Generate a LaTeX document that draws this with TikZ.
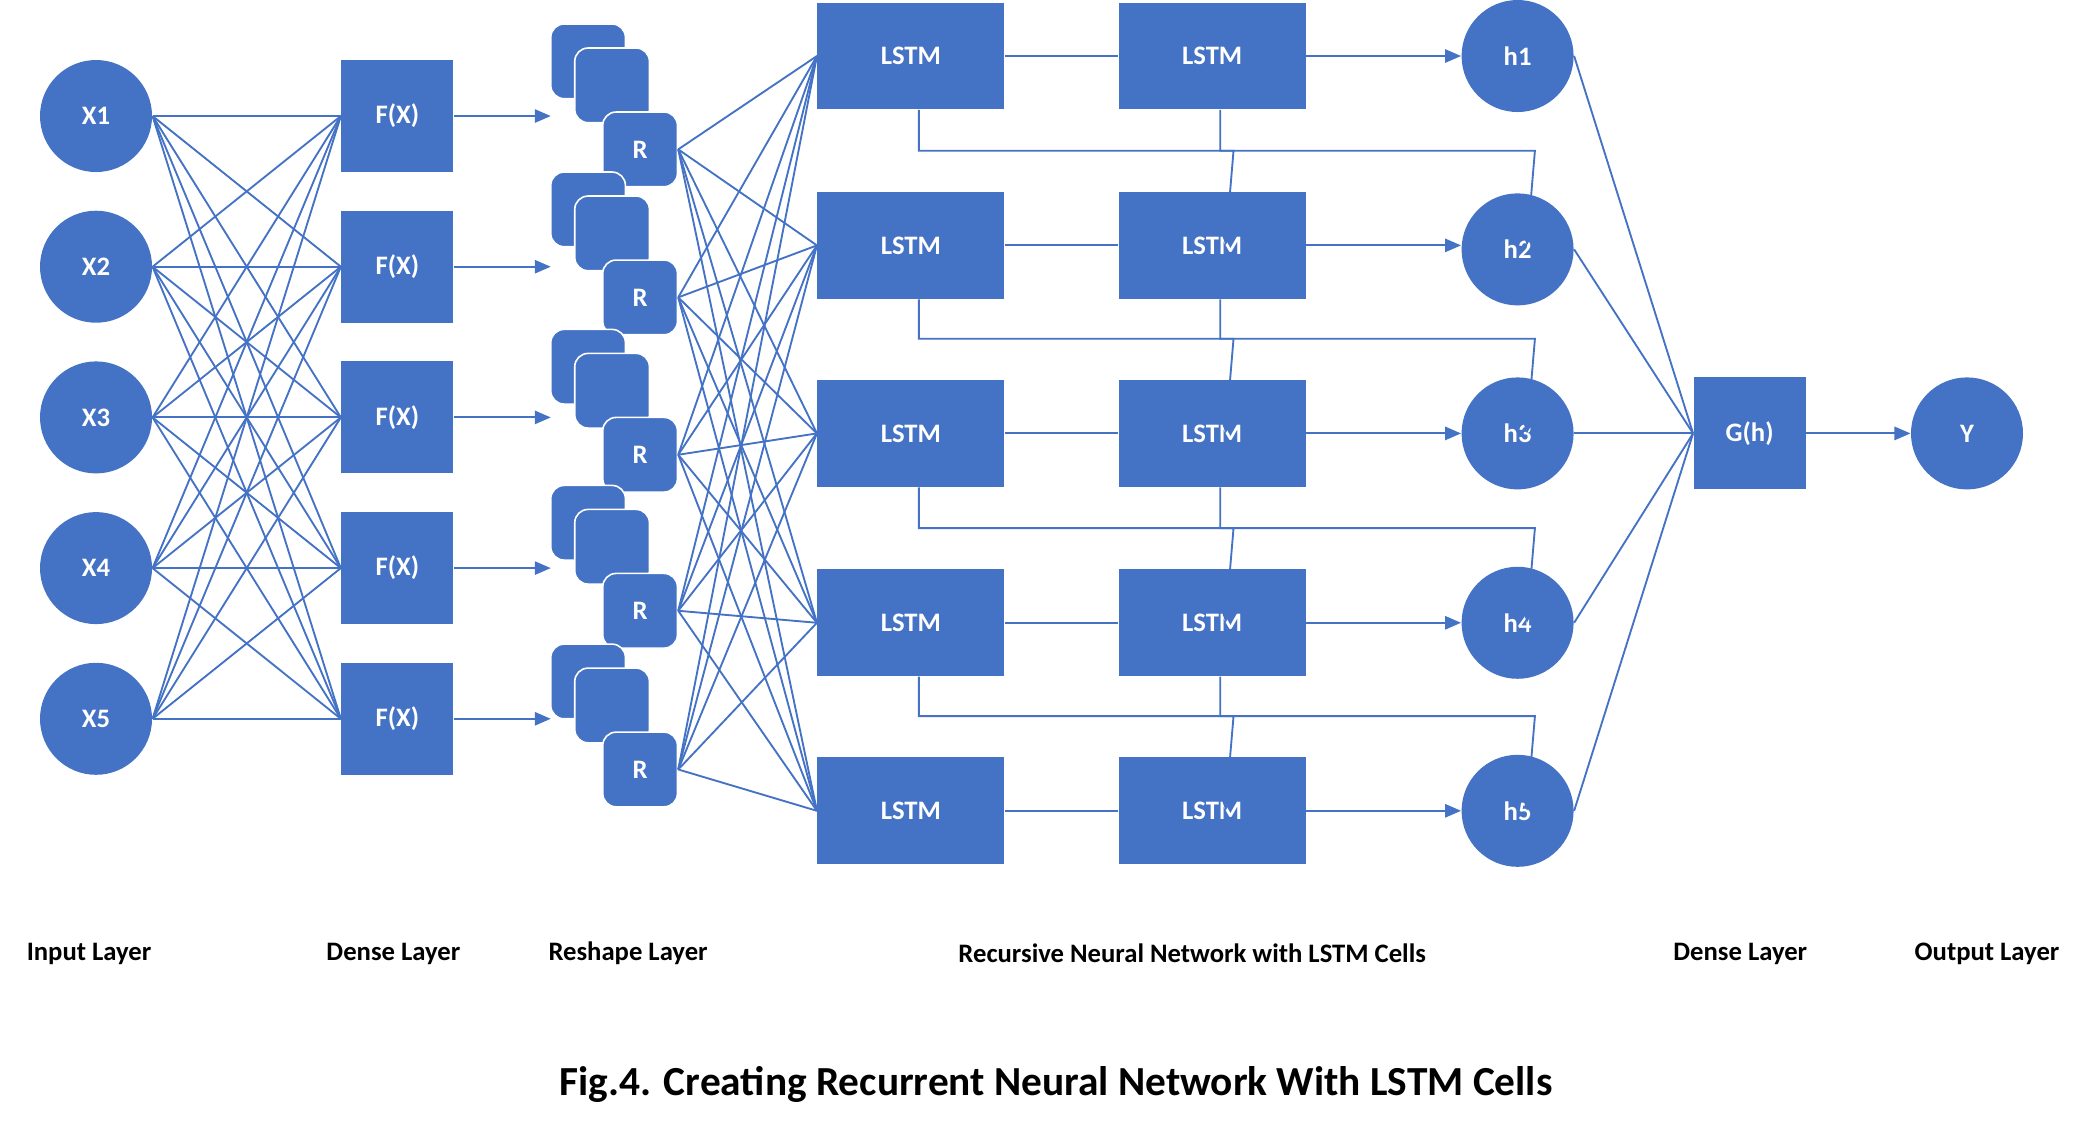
\documentclass[tikz,border=0pt]{standalone}
\usepackage{fontspec}
\setmainfont{Carlito}
\usetikzlibrary{arrows.meta}
\definecolor{bl}{HTML}{4472C4}
\begin{document}
\begin{tikzpicture}[x=0.5pt,y=-0.5pt,
  circ/.style={circle,fill=bl,draw=none,minimum size=42pt,inner sep=0,text=white,font=\bfseries\fontsize{10}{12}\selectfont},
  sq/.style={rectangle,fill=bl,draw=none,minimum width=42pt,minimum height=42pt,inner sep=0,text=white,font=\bfseries\fontsize{10}{12}\selectfont},
  lstm/.style={rectangle,fill=bl,draw=none,minimum width=70pt,minimum height=40pt,inner sep=0,text=white,font=\bfseries\fontsize{10}{12}\selectfont},
  rr/.style={rectangle,rounded corners=5pt,fill=bl,draw=white,line width=0.6pt,minimum width=28pt,minimum height=28pt,inner sep=0,text=white,font=\bfseries\fontsize{10}{12}\selectfont},
  ln/.style={draw=bl,line width=0.7pt},
  ar/.style={ln,-{Triangle[length=6pt,width=5pt]}},
  lab/.style={font=\bfseries\fontsize{10}{12}\selectfont,text=black}]
\useasboundingbox (0,0) rectangle (1568,853);
% rows
\foreach \i/\y/\ry in {1/87/112,2/200/223,3/313/341,4/426/458,5/539/577}{
  \node[circ] (x\i) at (72,\y) {X\i};
  \node[sq] (f\i) at (298,\y) {F(X)};
  \node[rr] (rb\i) at (441,\ry-66+\y-\y) {};
  \node[rr] (rm\i) at (459,\ry-48) {};
  \node[rr] (r\i) at (480,\ry-28+28) {R};
  \coordinate (ra\i) at (413,\y);
}
\foreach \i/\ry in {1/112,2/223,3/341,4/458,5/577}{
  \path (r\i) ++(0,0);
}
\foreach \i/\y in {1/42,2/184,3/325,4/467,5/608}{
  \node[lstm] (a\i) at (683,\y) {LSTM};
  \node[lstm] (b\i) at (909,\y) {LSTM};
}
\foreach \i/\y in {1/42,2/187,3/325,4/467,5/608}{
  \node[circ] (h\i) at (1138,\y) {h\i};
}
\node[sq] (g) at (1312,325) {G(h)};
\node[circ] (yy) at (1475,325) {Y};
% connections
\foreach \i in {1,...,5}{
  \foreach \j in {1,...,5}{
    \draw[ln] (x\i.east) -- (f\j.west);
    \draw[ln] (r\i.east) -- (a\j.west);
  }
  \draw[ar] (f\i.east) -- (ra\i);
  \draw[ln] (a\i.east) -- (b\i.west);
  \draw[ar] (b\i.east) -- (b\i.east -| h\i.west);
  \draw[ln] (h\i.east) -- (g.west);
}
\draw[ar] (g.east) -- (yy.west);
% vertical recurrences
\foreach \i/\j/\m in {1/2/113,2/3/254,3/4/396,4/5/537}{
  \coordinate (ea\i) at ([xshift=3pt]a\i.south);
  \coordinate (eb\i) at ([xshift=3pt]b\i.south);
  \coordinate (ta\j) at ([xshift=118]a\i.south |- a\j);
  \coordinate (tb\j) at ([xshift=118]b\i.south |- b\j);
  \draw[ar] (ea\i) |- ([xshift=118]ea\i |- 0,\m) -- (ta\j);
  \draw[ar] (eb\i) |- ([xshift=118]eb\i |- 0,\m) -- (tb\j);
}
% labels
\node[lab,anchor=west] (l1) at (13,715) {Input Layer};
\node[lab] (l2) at (295,715) {Dense Layer};
\node[lab] (l3) at (471,715) {Reshape Layer};
\node[lab] (l4) at (894,715) {Recursive Neural Network with LSTM Cells};
\node[lab] (l5) at (1305,715) {Dense Layer};
\node[lab] (l6) at (1490,715) {Output Layer};
\node[font=\bfseries\fontsize{15.5}{18}\selectfont] (cap) at (792,813) {Fig.4. Creating Recurrent Neural Network With LSTM Cells};
\end{tikzpicture}
\end{document}
